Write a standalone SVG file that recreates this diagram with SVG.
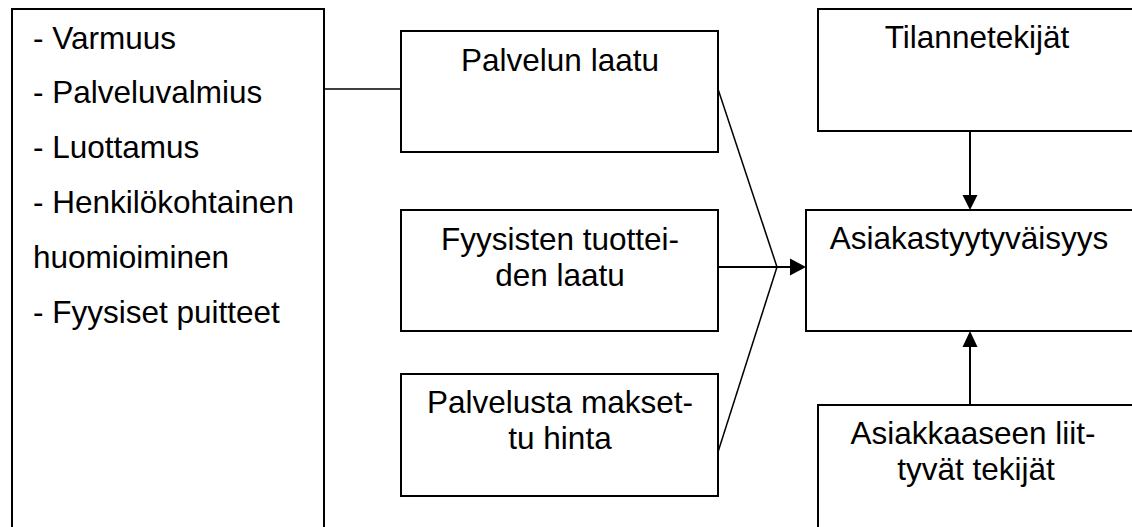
<svg xmlns="http://www.w3.org/2000/svg" width="1132" height="527" viewBox="0 0 1132 527">
<style>
.box{fill:#fff;stroke:#000;stroke-width:2}
.t{font-family:"Liberation Sans",Arial,sans-serif;font-size:31.5px;fill:#000}
.c{text-anchor:middle}
.ln{stroke:#000;stroke-width:1.5;fill:none}
.ar{stroke:#000;stroke-width:2;fill:none}
.hd{fill:#000}
</style>
<rect width="1132" height="527" fill="#fff"/>
<g id="connectors">
<line class="ln" x1="324" y1="89" x2="401" y2="89"/>
<line class="ln" x1="718" y1="89" x2="777" y2="267"/>
<line class="ln" x1="718" y1="452" x2="777" y2="267"/>
<line class="ar" x1="718" y1="267" x2="791" y2="267"/>
<polygon class="hd" points="790,258.5 806,267 790,275.5"/>
<line class="ar" x1="970" y1="131" x2="970" y2="196"/>
<polygon class="hd" points="962.5,195 977.5,195 970,210"/>
<line class="ar" x1="970" y1="405" x2="970" y2="346"/>
<polygon class="hd" points="962.5,347 977.5,347 970,331"/>
</g>
<g id="n-left">
<rect class="box" x="12" y="9" width="312" height="530"/>
<text class="t" x="33" y="49">- Varmuus</text>
<text class="t" x="33" y="103">- Palveluvalmius</text>
<text class="t" x="33" y="158">- Luottamus</text>
<text class="t" x="33" y="213">- Henkilökohtainen</text>
<text class="t" x="33" y="268">huomioiminen</text>
<text class="t" x="33" y="323">- Fyysiset puitteet</text>
</g>
<g id="n-palvelun">
<rect class="box" x="401" y="31" width="317" height="121"/>
<text class="t c" x="560" y="71">Palvelun laatu</text>
</g>
<g id="n-fyysisten">
<rect class="box" x="401" y="210" width="317" height="121"/>
<text class="t c" x="560" y="250">Fyysisten tuottei-</text>
<text class="t c" x="560" y="286">den laatu</text>
</g>
<g id="n-palvelusta">
<rect class="box" x="401" y="374" width="317" height="122"/>
<text class="t c" x="560" y="413">Palvelusta makset-</text>
<text class="t c" x="560" y="449">tu hinta</text>
</g>
<g id="n-tilanne">
<rect class="box" x="818" y="9" width="330" height="122"/>
<text class="t c" x="977" y="48">Tilannetekijät</text>
</g>
<g id="n-asiakas">
<rect class="box" x="806" y="210" width="340" height="121"/>
<text class="t c" x="969" y="249">Asiakastyytyväisyys</text>
</g>
<g id="n-asiakkaaseen">
<rect class="box" x="818" y="405" width="330" height="140"/>
<text class="t c" x="973" y="444">Asiakkaaseen liit-</text>
<text class="t c" x="976" y="480">tyvät tekijät</text>
</g>
</svg>
